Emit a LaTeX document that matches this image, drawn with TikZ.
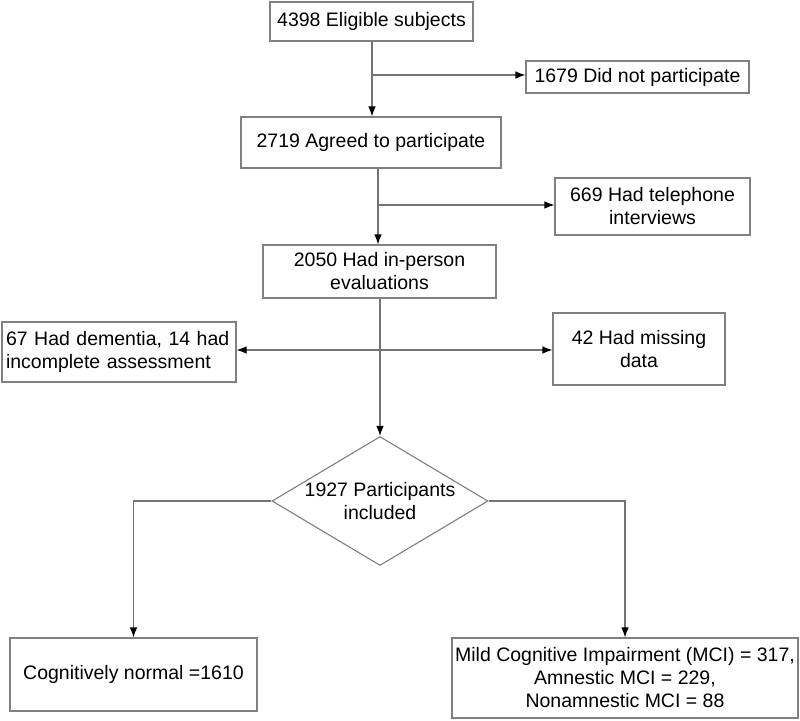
\documentclass[tikz,border=0pt]{standalone}
\usepackage{fontspec}
\setmainfont{Liberation Sans}
\usetikzlibrary{arrows.meta}
\usetikzlibrary{shapes.geometric}
\pgfdeclarelayer{edgelayer}
\pgfdeclarelayer{nodelayer}
\pgfsetlayers{edgelayer,nodelayer,main}
\tikzstyle{none}=[inner sep=0pt,align=center]
\tikzstyle{flow_box}=[rectangle,draw=black!50,line width=1.1pt,fill=white,inner sep=2pt,align=center]
\tikzstyle{decision}=[diamond,draw=black!50,line width=1.1pt,inner sep=0pt]
\tikzstyle{flow_arrow}=[-{Latex[length=10pt,width=7.5pt,color=black]},draw=black!55,line width=1.1pt]

\begin{document}
\begin{tikzpicture}[x=1pt,y=-1pt,font=\fontsize{19.5}{23}\selectfont]
	\useasboundingbox (0,0) rectangle (800,720);
	\begin{pgfonlayer}{nodelayer}
		\node [style={flow_box}, minimum width=203pt, minimum height=39pt] (0) at (371.5, 21.5) {4398 Eligible subjects};
		\node [style={flow_box}, minimum width=223pt, minimum height=32pt] (1) at (637.5, 77) {1679 Did not participate};
		\node [style={flow_box}, minimum width=260pt, minimum height=51pt] (2) at (371, 142.5) {2719 Agreed to participate};
		\node [style={flow_box}, minimum width=195pt, minimum height=57pt] (3) at (652.5, 206.5) {669 Had telephone\\interviews};
		\node [style={flow_box}, minimum width=233pt, minimum height=53pt] (4) at (379.5, 271.5) {2050 Had in-person\\evaluations};
		\node [style={flow_box}, minimum width=234pt, minimum height=60pt, align=left, text width=226pt] (5) at (119, 352) {67 Had dementia, 14 had\\incomplete assessment};
		\node [style={flow_box}, minimum width=172pt, minimum height=72pt] (6) at (639, 349) {42 Had missing\\data};
		\node [style=decision, minimum width=216pt, minimum height=129pt] (7) at (380, 501) {};
		\node [style=none] (8) at (380, 501) {1927 Participants\\included};
		\node [style={flow_box}, minimum width=247pt, minimum height=73pt] (9) at (133.5, 674.5) {Cognitively normal =1610};
		\node [style={flow_box}, minimum width=346pt, minimum height=80pt] (10) at (625, 678) {Mild Cognitive Impairment (MCI) = 317,\\Amnestic MCI = 229,\\Nonamnestic MCI = 88};
		\coordinate (11) at (372, 75);
		\coordinate (12) at (378, 205);
		\coordinate (13) at (380, 350);
	\end{pgfonlayer}
	\begin{pgfonlayer}{edgelayer}
		\draw [style={flow_arrow}] (0.south -| 11) to (2.north -| 11);
		\draw [style={flow_arrow}] (11) to (11 -| 1.west);
		\draw [style={flow_arrow}] (2.south -| 12) to (4.north -| 12);
		\draw [style={flow_arrow}] (12) to (12 -| 3.west);
		\draw [style={flow_arrow}] (4.south -| 13) to (7.north);
		\draw [style={flow_arrow}] (13) to (13 -| 5.east);
		\draw [style={flow_arrow}] (13) to (13 -| 6.west);
		\draw [style={flow_arrow}] (7.west) -| (9.north);
		\draw [style={flow_arrow}] (7.east) -| (10.north);
	\end{pgfonlayer}
\end{tikzpicture}
\end{document}
